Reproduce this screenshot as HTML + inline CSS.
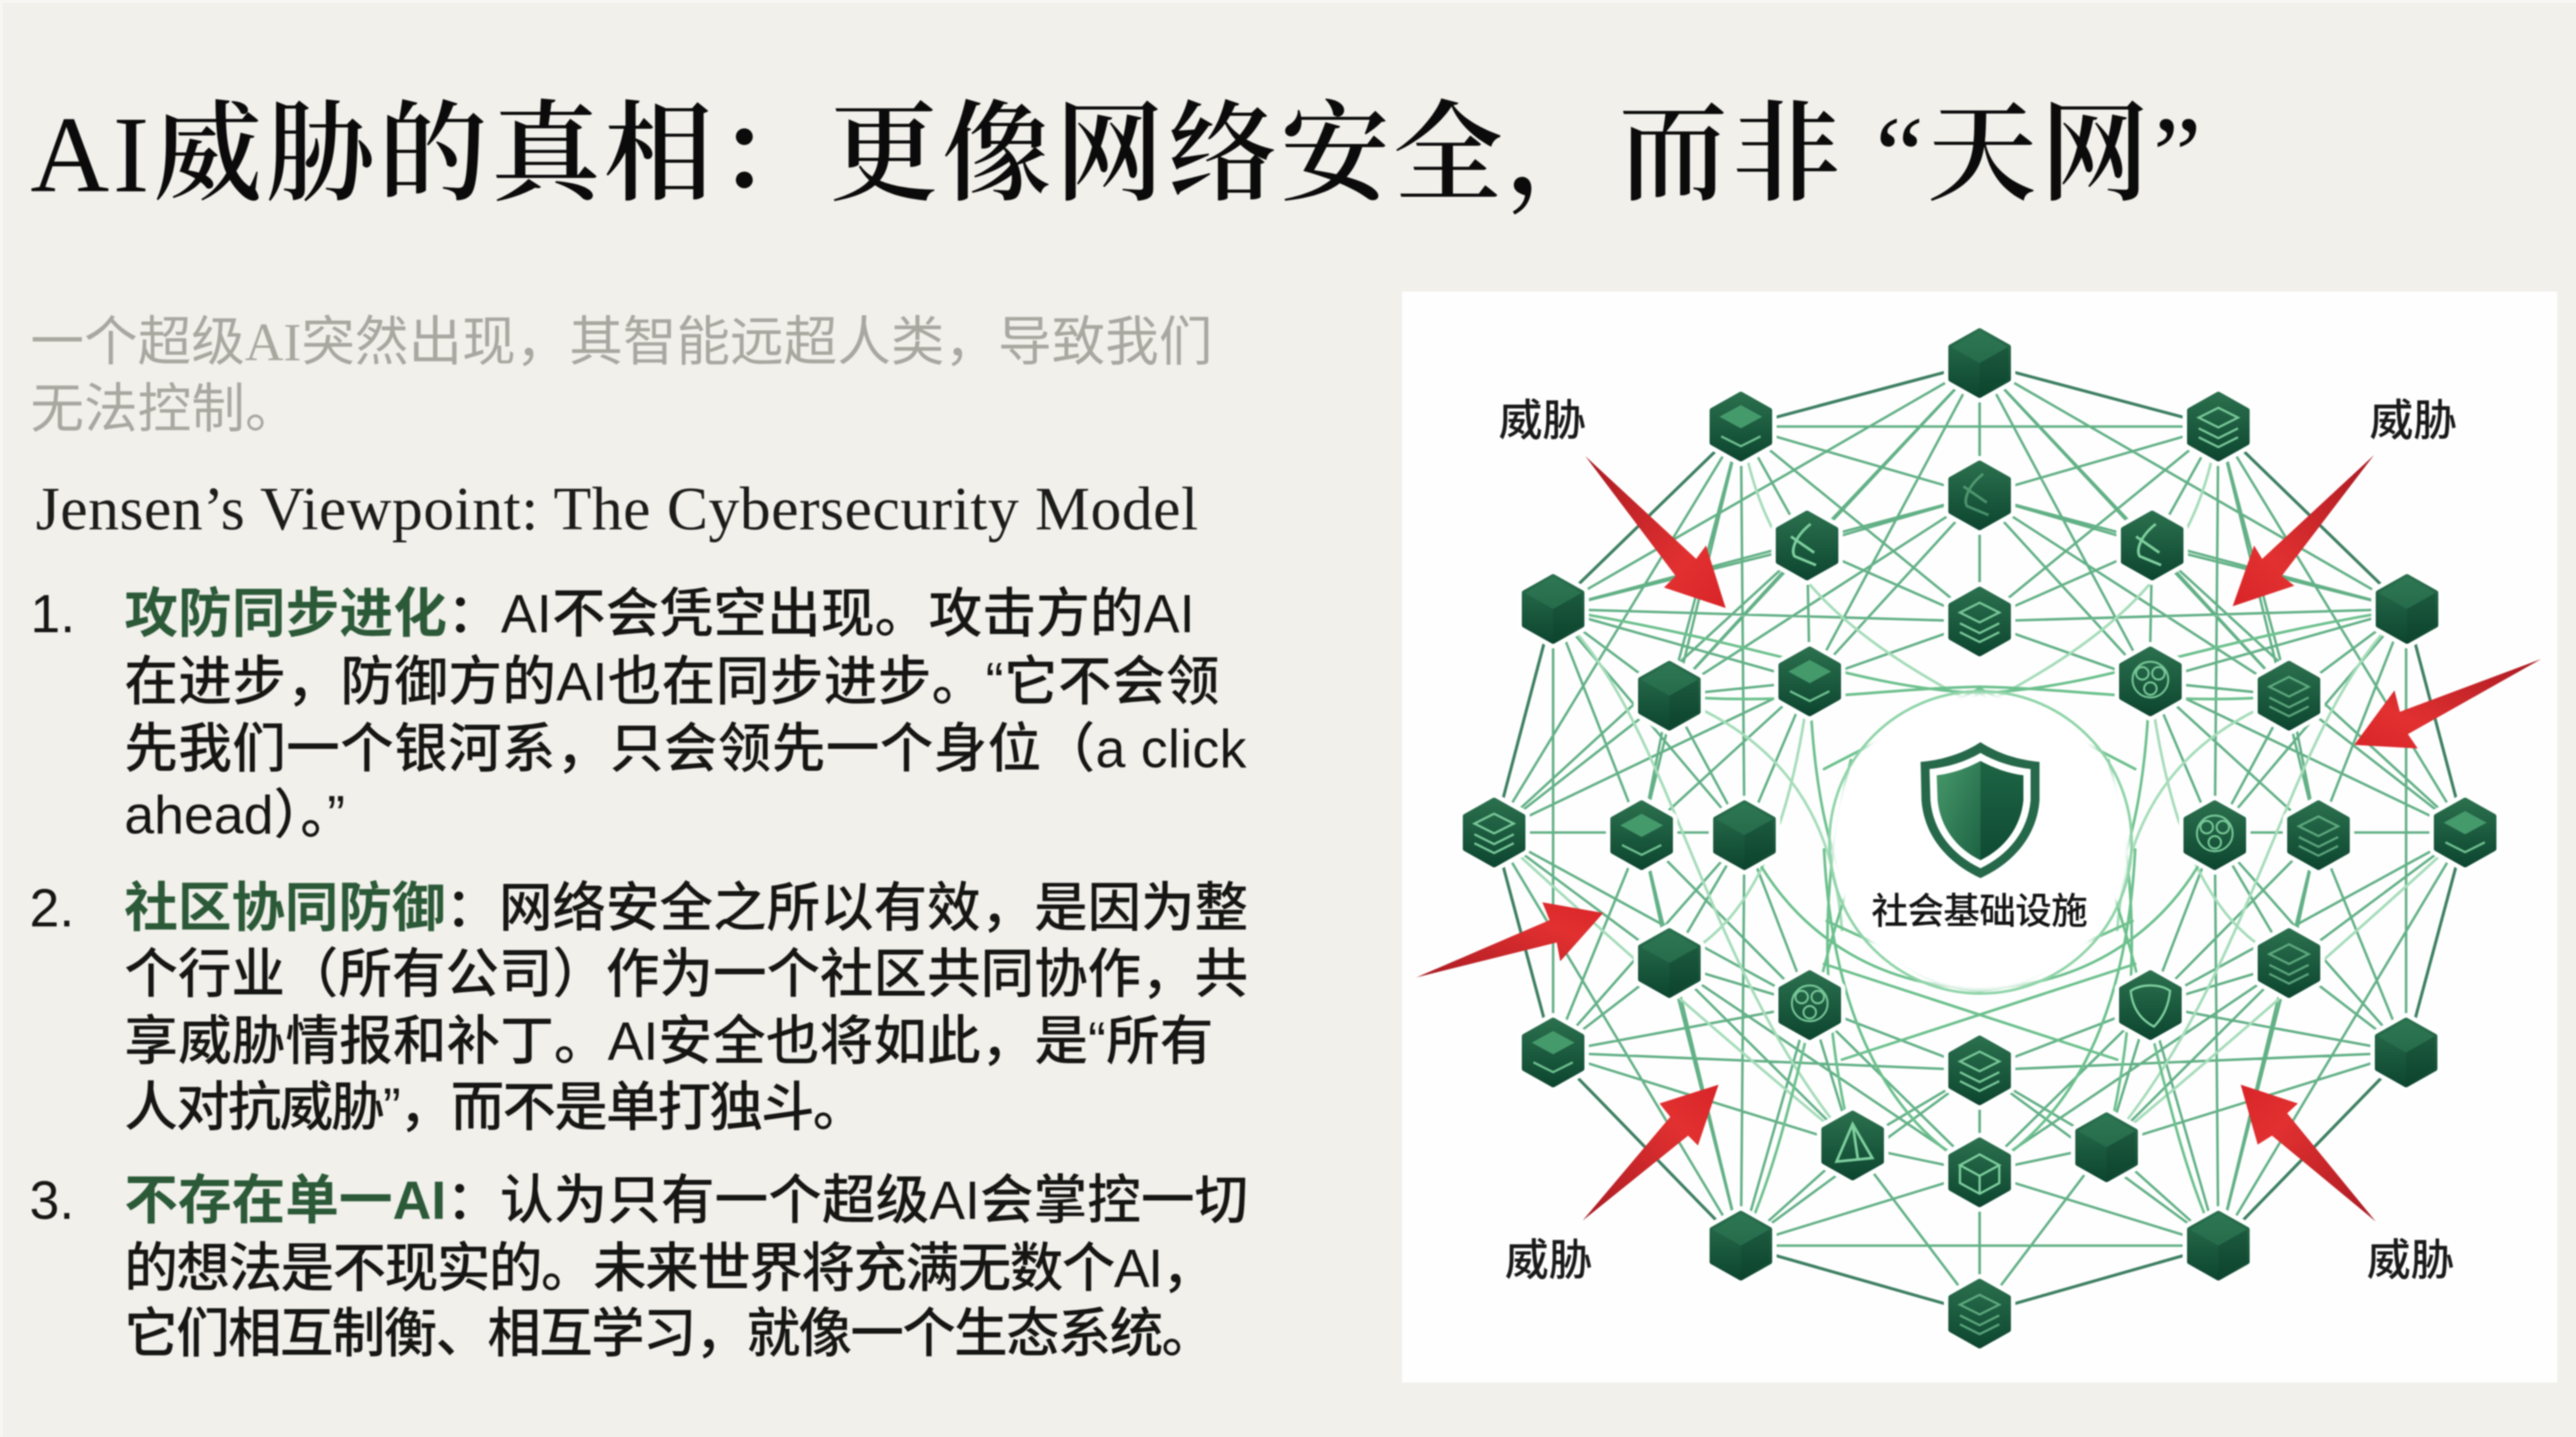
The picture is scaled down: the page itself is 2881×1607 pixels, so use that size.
<!DOCTYPE html>
<html lang="zh-CN"><head><meta charset="utf-8"><title>AI威胁的真相</title>
<style>html,body{margin:0;padding:0;background:#f1f0eb}svg{display:block;filter:blur(.8px)}
.s{font-family:"Liberation Sans","Noto Sans CJK SC",sans-serif}
.b{font-size:60px;fill:#161614;font-weight:500}
.h{fill:#2c5a38;font-weight:700}
</style></head><body>
<svg xmlns="http://www.w3.org/2000/svg" width="2881" height="1607" viewBox="0 0 2881 1607">
<defs>
<linearGradient id="ng" x1="0" y1="0" x2="0" y2="1"><stop offset="0" stop-color="#2a6f4d"/><stop offset="1" stop-color="#0d4630"/></linearGradient>
<linearGradient id="a1" x1="0" y1="0" x2="1" y2="1"><stop offset="0" stop-color="#a81a22"/><stop offset=".7" stop-color="#e23030"/><stop offset="1" stop-color="#d82428"/></linearGradient>
<linearGradient id="a2" x1="1" y1="0" x2="0" y2="1"><stop offset="0" stop-color="#a81a22"/><stop offset=".7" stop-color="#e23030"/><stop offset="1" stop-color="#d82428"/></linearGradient>
<linearGradient id="a3" x1="0" y1="1" x2="1" y2="0"><stop offset="0" stop-color="#a81a22"/><stop offset=".7" stop-color="#e23030"/><stop offset="1" stop-color="#d82428"/></linearGradient>
<linearGradient id="a4" x1="1" y1="1" x2="0" y2="0"><stop offset="0" stop-color="#a81a22"/><stop offset=".7" stop-color="#e23030"/><stop offset="1" stop-color="#d82428"/></linearGradient>
<linearGradient id="sl" x1="0" y1="0" x2="1" y2="1"><stop offset="0" stop-color="#48996b"/><stop offset="1" stop-color="#1c6243"/></linearGradient>
<linearGradient id="sr" x1="0" y1="0" x2="0" y2="1"><stop offset="0" stop-color="#1d6444"/><stop offset="1" stop-color="#0f4a34"/></linearGradient>
<filter id="bl" x="-20%" y="-20%" width="140%" height="140%"><feGaussianBlur stdDeviation="3"/></filter>
<g id="n">
<polygon points="0,-36 32,-18 32,18 0,36 -32,18 -32,-18" fill="#fff" stroke="#fff" stroke-width="16" stroke-linejoin="round"/>
<polygon points="0,-36 32,-18 32,18 0,36 -32,18 -32,-18" fill="url(#ng)" stroke="url(#ng)" stroke-width="6" stroke-linejoin="round"/>
</g>
<g id="cube"><polygon points="0,-36 32,-18 0,0 -32,-18" fill="#34805a" opacity=".45"/><polygon points="0,0 32,-18 32,18 0,36" fill="#0c3f2c" opacity=".3"/></g>
<g id="dia"><polygon points="0,-24 24,-11 0,2 -24,-11" fill="#459a6b"/><path d="M-22 11L0 22L22 11" fill="none" stroke="#6fc08f" stroke-width="2.5"/></g>
<g id="lay" fill="none" stroke="#78c798" stroke-width="2.5"><path d="M-22 -10L0 -21L22 -10L0 1Z"/><path d="M-22 2L0 13L22 2"/><path d="M-22 12L0 23L22 12"/></g>
<g id="ring" fill="none" stroke="#78c798" stroke-width="2.2"><circle r="20" cy="-2"/><circle r="7" cx="-9" cy="-9"/><circle r="7" cx="9" cy="-9"/><circle r="7" cx="0" cy="8"/></g>
<g id="leaf" fill="none" stroke="#7fd09f" stroke-width="3"><path d="M4 -24C-14 -10 -18 6 -14 12L10 22"/><path d="M-18 -10L8 8"/></g>
<g id="shd" fill="none" stroke="#7fd09f" stroke-width="2.5"><path d="M-22 -16C-10 -24 10 -24 22 -16C20 6 10 18 4 24C-8 18 -20 6 -22 -16Z"/></g>
<g id="ocube" fill="none" stroke="#7fd09f" stroke-width="2.5"><path d="M0 -20L22 -8L0 4L-22 -8ZM-22 -8V12L0 24L22 12V-8M0 4V24"/></g>
<g id="tri" fill="none" stroke="#7fd09f" stroke-width="3"><path d="M0 -24L-18 18L22 14ZM0 -24L6 16"/></g>

<g id="half">
<g fill="none" stroke="#62b086" stroke-width="2.8" stroke-linecap="round">
<path d="M2214 406L1737 681M2214 406L1867 778M2214 406L2021 610M2214 406L2024 762M2214 406V695
M2214 554L1947 477M2214 554L2021 610M2214 554L2024 762M2214 554L1867 778
M2214 695L2021 610M2214 695L2024 762M2214 695L1737 681M2214 695L1947 477
M1947 477H2214M1947 477L2021 610M1947 477L1951 934M1947 477L1671 931M1947 477L1836 934M1947 477L1867 778
M1737 681L2021 610M1737 681L1867 778M1737 681L2024 762M1737 681L1836 934M1737 681L1951 934M1737 681V1177M1737 681L2214 554
M1671 931L1867 778M1671 931L2024 762M1671 931L2021 610M1671 931H1951M1671 931L1867 1077M1671 931L2024 1124M1671 931L1947 1393
M2021 610L1867 778M2021 610L2024 762M1867 778L2024 762M1867 778L1836 934M1867 778L1951 934M2024 762L1836 934M2024 762L1951 934
M1737 1177L1867 1077M1737 1177L2024 1124M1737 1177L2214 1197M1737 1177L2072 1281M1737 1177L1836 934M1737 1177L1951 934
M1947 1393L2072 1281M1947 1393L2214 1311M1947 1393L2214 1197M1947 1393L2024 1124M1947 1393L1867 1077M1947 1393L1836 934M1947 1393L1951 934M1947 1393H2214
M1867 1077L2024 1124M1867 1077L1836 934M1867 1077L1951 934M1867 1077L2072 1281M1867 1077L2214 1311
M2024 1124L2214 1197M2024 1124L2072 1281M2024 1124L1836 934M2024 1124L1951 934M2024 1124L2214 1311M2024 1124L1947 1393
M2072 1281L2214 1197M2072 1281L2214 1311M2072 1281L2214 1469M2214 1197V1469"/>
</g>
<g fill="none" stroke="#3d7f62" stroke-width="3.4" stroke-linecap="round">
<path d="M2214 406L1947 477L1737 681L1671 931L1737 1177L1947 1393L2214 1469"/>
</g>
<g fill="none" stroke="#a5dcb9" stroke-width="3" stroke-linecap="round">
<path d="M1737 681C1870 800 1900 1080 2072 1281M1671 931C1800 1050 1950 1180 2072 1281M1867 778C1980 820 2050 900 2060 1040M1947 477C1970 620 2040 700 2214 790M1867 1077C1950 1040 2000 950 2024 762"/>
</g>
</g>
<g id="curves" fill="none" stroke="#6cc08d" stroke-width="3" stroke-linecap="round">
<path d="M2024 762C2030 980 2090 1100 2214 1108M1951 934C2010 1060 2120 1105 2214 1105M1737 681C1980 720 2080 770 2214 775M1867 778C2000 790 2100 770 2214 768M2072 1281C2040 1150 2030 1000 2070 850M1947 1393C2040 1200 2030 900 2214 775M2214 1311C2120 1260 2050 1150 2040 950M2060 1185L2388 1078M2040 860L2214 770M2043 1030L2214 1108"/>
</g>
</defs>

<rect width="2881" height="1607" fill="#f1f0eb"/>
<rect width="2881" height="3" fill="#f8f7f4"/><rect width="3" height="1607" fill="#f8f7f4"/>

<text x="34" y="214" font-size="122" font-weight="600" fill="#0b0b0b" textLength="2428" font-family="'Liberation Serif','Noto Serif CJK SC',serif"><tspan font-weight="400">AI</tspan>威胁的真相：更像网络安全，而非 <tspan font-weight="400">“</tspan>天网<tspan font-weight="400">”</tspan></text>

<text class="s" x="34" y="403" font-size="60" fill="#a9a8a0" textLength="1322">一个超级<tspan font-family="'Liberation Serif',serif">AI</tspan>突然出现，其智能远超人类，导致我们</text>
<text class="s" x="34" y="478" font-size="60" fill="#a9a8a0">无法控制。</text>

<text x="40" y="592" font-size="69" fill="#1c1c1a" textLength="1300" font-family="'Liberation Serif',serif">Jensen’s Viewpoint: The Cybersecurity Model</text>

<text class="s b" x="34" y="707">1.</text>
<text class="s b" x="139" y="707" textLength="1197"><tspan class="h">攻防同步进化</tspan>：AI不会凭空出现。攻击方的AI</text>
<text class="s b" x="139" y="783" textLength="1225">在进步，防御方的AI也在同步进步。“它不会领</text>
<text class="s b" x="139" y="858" textLength="1255">先我们一个银河系，只会领先一个身位（a click</text>
<text class="s b" x="139" y="932">ahead）。”</text>

<text class="s b" x="33" y="1036">2.</text>
<text class="s b" x="139" y="1036" textLength="1257"><tspan class="h">社区协同防御</tspan>：网络安全之所以有效，是因为整</text>
<text class="s b" x="139" y="1110" textLength="1257">个行业（所有公司）作为一个社区共同协作，共</text>
<text class="s b" x="139" y="1185" textLength="1218">享威胁情报和补丁。AI安全也将如此，是“所有</text>
<text class="s b" x="139" y="1259" textLength="830">人对抗威胁”，而不是单打独斗。</text>

<text class="s b" x="33" y="1363">3.</text>
<text class="s b" x="139" y="1363" textLength="1257"><tspan class="h">不存在单一AI</tspan>：认为只有一个超级AI会掌控一切</text>
<text class="s b" x="139" y="1439" textLength="1220">的想法是不现实的。未来世界将充满无数个AI，</text>
<text class="s b" x="139" y="1512" textLength="1220">它们相互制衡、相互学习，就像一个生态系统。</text>

<!-- panel -->
<rect x="1568" y="326" width="1292" height="1220" fill="#fefefe"/>

<use href="#half"/>
<use href="#half" transform="matrix(-1 0 0 1 4428 0)"/>
<use href="#curves"/>
<use href="#curves" transform="matrix(-1 0 0 1 4428 0)"/>
<circle cx="2215" cy="942" r="167" fill="#fff" filter="url(#bl)"/>
<circle cx="2215" cy="942" r="169" fill="none" stroke="#8fd4a8" stroke-width="3"/>

<!-- arrows -->
<polygon points="1773,510 1897,625 1908,610 1930,680 1861,657 1874,644" fill="url(#a1)"/>
<polygon points="2655,509 2552,644 2566,655 2497,678 2521,610 2530,625" fill="url(#a2)"/>
<polygon points="2842,737 2693,821 2704,837 2633,833 2678,772 2684,796" fill="url(#a2)"/>
<polygon points="1584,1093 1741,1054 1745,1075 1793,1021 1725,1009 1733,1029" fill="url(#a3)"/>
<polygon points="1770,1365 1888,1270 1899,1281 1922,1213 1856,1234 1868,1249" fill="url(#a3)"/>
<polygon points="2657,1366 2541,1270 2525,1280 2506,1213 2570,1234 2558,1245" fill="url(#a4)"/>

<!-- nodes -->
<g>
<use href="#n" x="2214" y="406"/><use href="#cube" x="2214" y="406"/>
<use href="#n" x="2214" y="554"/><use href="#leaf" x="2214" y="554" opacity=".5"/>
<use href="#n" x="2214" y="695"/><use href="#lay" x="2214" y="695"/>
<use href="#n" x="1947" y="477"/><use href="#dia" x="1947" y="477"/>
<use href="#n" x="2481" y="477"/><use href="#lay" x="2481" y="477"/>
<use href="#n" x="2021" y="610"/><use href="#leaf" x="2021" y="610"/>
<use href="#n" x="2407" y="610"/><use href="#leaf" x="2407" y="610"/>
<use href="#n" x="1737" y="681"/><use href="#cube" x="1737" y="681"/>
<use href="#n" x="2692" y="681"/><use href="#cube" x="2692" y="681"/>
<use href="#n" x="1867" y="778"/><use href="#cube" x="1867" y="778"/>
<use href="#n" x="2560" y="778"/><use href="#lay" x="2560" y="778" opacity=".7"/>
<use href="#n" x="2024" y="762"/><use href="#dia" x="2024" y="762"/>
<use href="#n" x="2405" y="762"/><use href="#ring" x="2405" y="762"/>
<use href="#n" x="1671" y="931"/><use href="#lay" x="1671" y="931"/>
<use href="#n" x="1836" y="934"/><use href="#dia" x="1836" y="934"/>
<use href="#n" x="1951" y="934"/><use href="#cube" x="1951" y="934"/>
<use href="#n" x="2477" y="934"/><use href="#ring" x="2477" y="934"/>
<use href="#n" x="2593" y="934"/><use href="#lay" x="2593" y="934" opacity=".7"/>
<use href="#n" x="2757" y="931"/><use href="#dia" x="2757" y="931"/>
<use href="#n" x="1867" y="1077"/><use href="#cube" x="1867" y="1077"/>
<use href="#n" x="2560" y="1077"/><use href="#lay" x="2560" y="1077" opacity=".7"/>
<use href="#n" x="2024" y="1124"/><use href="#ring" x="2024" y="1124"/>
<use href="#n" x="2405" y="1124"/><use href="#shd" x="2405" y="1124"/>
<use href="#n" x="1737" y="1177"/><use href="#dia" x="1737" y="1177"/>
<use href="#n" x="2691" y="1177"/><use href="#cube" x="2691" y="1177"/>
<use href="#n" x="2214" y="1197"/><use href="#lay" x="2214" y="1197"/>
<use href="#n" x="2072" y="1281"/><use href="#tri" x="2072" y="1281"/>
<use href="#n" x="2356" y="1283"/><use href="#cube" x="2356" y="1283"/>
<use href="#n" x="2214" y="1311"/><use href="#ocube" x="2214" y="1311"/>
<use href="#n" x="1947" y="1393"/><use href="#cube" x="1947" y="1393"/>
<use href="#n" x="2481" y="1393"/><use href="#cube" x="2481" y="1393"/>
<use href="#n" x="2214" y="1469"/><use href="#lay" x="2214" y="1469" opacity=".7"/>
</g>

<!-- shield -->
<path d="M2215 830C2195 843 2172 850 2148 852L2149 895C2152 935 2178 965 2215 982C2252 965 2278 935 2281 895L2281 852C2258 850 2235 843 2215 830Z" fill="#26684a"/>
<path d="M2215 842C2198 852 2178 858 2158 860L2159 895C2162 930 2184 956 2215 971C2246 956 2268 930 2271 895L2271 860C2252 858 2232 852 2215 842Z" fill="#fff"/>
<path d="M2215 851C2200 859 2184 865 2166 867L2167 895C2170 925 2188 949 2215 962Z" fill="url(#sl)"/>
<path d="M2215 851C2230 859 2246 865 2263 867L2263 895C2260 925 2242 949 2215 962Z" fill="url(#sr)"/>

<text class="s" x="2093" y="1033" font-size="41" font-weight="500" fill="#151515" textLength="242">社会基础设施</text>
<text class="s" x="1676" y="487" font-size="49" font-weight="500" fill="#1a1a1a" textLength="98">威胁</text>
<text class="s" x="2650" y="487" font-size="49" font-weight="500" fill="#1a1a1a" textLength="98">威胁</text>
<text class="s" x="1683" y="1426" font-size="49" font-weight="500" fill="#1a1a1a" textLength="98">威胁</text>
<text class="s" x="2647" y="1426" font-size="49" font-weight="500" fill="#1a1a1a" textLength="98">威胁</text>
</svg>
</body></html>
